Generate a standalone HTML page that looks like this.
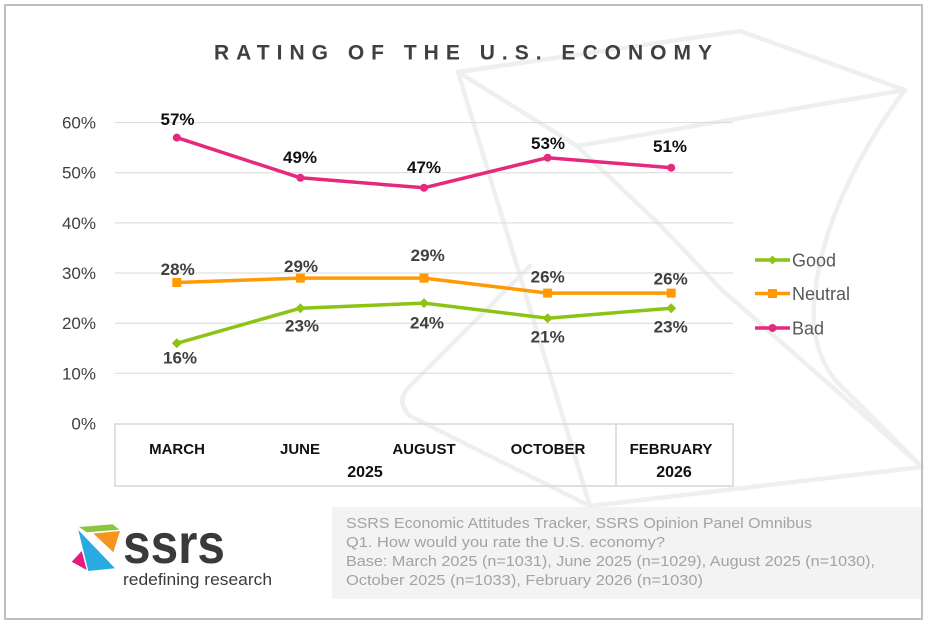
<!DOCTYPE html>
<html><head><meta charset="utf-8"><style>
html,body{margin:0;padding:0;background:#fff;}
svg{display:block;}
text{font-family:"Liberation Sans",sans-serif;}
</style></head><body>
<svg width="927" height="625" viewBox="0 0 927 625" xmlns="http://www.w3.org/2000/svg">
<rect x="0" y="0" width="927" height="625" fill="#fff"/>
<!-- footnote box -->
<rect x="332" y="507" width="590" height="92" fill="#f3f3f3"/>
<!-- watermark -->
<g fill="none" stroke="#efefef" stroke-width="4.5" stroke-linejoin="round" stroke-linecap="round">
<polyline points="458,72 740,31 905,90"/>
<polyline points="458,72 577,146 905,90"/>
<polyline points="577,146 660,225 722,290 838,392 922,467"/>
<polyline points="458,72 590,506 922,467"/>
<path d="M905,90 C860,150 818,230 814,306 C812,345 825,370 840,385 L922,467"/>
<path d="M530,266 L408,388 Q396,402 410,416 L590,506"/>
</g>
<!-- outer border -->
<rect x="5" y="5" width="917" height="614" fill="none" stroke="#bfbfbf" stroke-width="2"/>
<!-- title -->
<text x="214" y="59.5" font-size="21" font-weight="bold" fill="#404040" textLength="498" lengthAdjust="spacing">RATING OF THE U.S. ECONOMY</text>
<!-- gridlines -->
<g stroke="#d9d9d9" stroke-width="1">
<line x1="115" y1="122.6" x2="733" y2="122.6"/>
<line x1="115" y1="172.7" x2="733" y2="172.7"/>
<line x1="115" y1="222.9" x2="733" y2="222.9"/>
<line x1="115" y1="273" x2="733" y2="273"/>
<line x1="115" y1="323.2" x2="733" y2="323.2"/>
<line x1="115" y1="373.3" x2="733" y2="373.3"/>
</g>
<!-- y labels -->
<g font-size="17" fill="#404040" text-anchor="end">
<text x="96" y="128.6">60%</text>
<text x="96" y="178.7">50%</text>
<text x="96" y="228.9">40%</text>
<text x="96" y="279">30%</text>
<text x="96" y="329.2">20%</text>
<text x="96" y="379.3">10%</text>
<text x="96" y="429.5">0%</text>
</g>
<!-- category box -->
<g fill="none" stroke="#d9d9d9" stroke-width="1.6">
<rect x="115" y="424" width="618" height="62"/>
<line x1="616" y1="424" x2="616" y2="486"/>
</g>
<g font-size="15" font-weight="bold" fill="#111" text-anchor="middle">
<text x="177" y="454">MARCH</text>
<text x="300" y="454">JUNE</text>
<text x="424" y="454">AUGUST</text>
<text x="548" y="454">OCTOBER</text>
<text x="671" y="454">FEBRUARY</text>
<text x="365" y="477" font-size="16">2025</text>
<text x="674" y="477" font-size="16">2026</text>
</g>
<!-- series: Bad -->
<polyline fill="none" stroke="#e6287e" stroke-width="3.5" stroke-linejoin="round" points="176.8,137.6 300.4,177.8 424,187.8 547.6,157.7 671.2,167.7"/>
<g fill="#e6287e">
<circle cx="176.8" cy="137.6" r="4"/><circle cx="300.4" cy="177.8" r="4"/><circle cx="424" cy="187.8" r="4"/><circle cx="547.6" cy="157.7" r="4"/><circle cx="671.2" cy="167.7" r="4"/>
</g>
<!-- series: Neutral -->
<polyline fill="none" stroke="#ff9a05" stroke-width="3.5" stroke-linejoin="round" points="176.8,282.5 300.4,278.1 424,278.1 547.6,293.1 671.2,293.1"/>
<g fill="#ff9a05">
<rect x="172.3" y="278" width="9" height="9"/><rect x="295.9" y="273.6" width="9" height="9"/><rect x="419.5" y="273.6" width="9" height="9"/><rect x="543.1" y="288.6" width="9" height="9"/><rect x="666.7" y="288.6" width="9" height="9"/>
</g>
<!-- series: Good -->
<polyline fill="none" stroke="#8cc314" stroke-width="3.5" stroke-linejoin="round" points="176.8,343.3 300.4,308.2 424,303.1 547.6,318.2 671.2,308.2"/>
<g fill="#8cc314">
<polygon points="176.8,338.3 181.8,343.3 176.8,348.3 171.8,343.3"/>
<polygon points="300.4,303.2 305.4,308.2 300.4,313.2 295.4,308.2"/>
<polygon points="424,298.1 429,303.1 424,308.1 419,303.1"/>
<polygon points="547.6,313.2 552.6,318.2 547.6,323.2 542.6,318.2"/>
<polygon points="671.2,303.2 676.2,308.2 671.2,313.2 666.2,308.2"/>
</g>
<!-- data labels -->
<g font-size="17" font-weight="bold" text-anchor="middle">
<g fill="#111">
<text x="177.5" y="125">57%</text>
<text x="300" y="163">49%</text>
<text x="424" y="173">47%</text>
<text x="548" y="149">53%</text>
<text x="670" y="152">51%</text>
</g>
<g fill="#404040">
<text x="177.7" y="275">28%</text>
<text x="301" y="272">29%</text>
<text x="427.7" y="261">29%</text>
<text x="547.7" y="282.7">26%</text>
<text x="670.7" y="284.5">26%</text>
<text x="180" y="363.7">16%</text>
<text x="302" y="331.7">23%</text>
<text x="427" y="328.7">24%</text>
<text x="547.7" y="342.7">21%</text>
<text x="670.7" y="332.7">23%</text>
</g>
</g>
<!-- legend -->
<g stroke-width="3.5">
<line x1="755" y1="260" x2="790" y2="260" stroke="#8cc314"/>
<line x1="755" y1="293.5" x2="790" y2="293.5" stroke="#ff9a05"/>
<line x1="755" y1="328" x2="790" y2="328" stroke="#e6287e"/>
</g>
<polygon points="772.5,255.5 777,260 772.5,264.5 768,260" fill="#8cc314"/>
<rect x="768" y="289" width="9" height="9" fill="#ff9a05"/>
<circle cx="772.5" cy="328" r="4" fill="#e6287e"/>
<g font-size="18" fill="#595959">
<text x="792" y="266.5">Good</text>
<text x="792" y="300">Neutral</text>
<text x="792" y="334.5">Bad</text>
</g>
<!-- footnote text -->
<g font-size="15" fill="#a3a3a3">
<text x="346" y="528" textLength="466" lengthAdjust="spacingAndGlyphs">SSRS Economic Attitudes Tracker, SSRS Opinion Panel Omnibus</text>
<text x="346" y="547" textLength="319" lengthAdjust="spacingAndGlyphs">Q1. How would you rate the U.S. economy?</text>
<text x="346" y="566" textLength="529" lengthAdjust="spacingAndGlyphs">Base: March 2025 (n=1031), June 2025 (n=1029), August 2025 (n=1030),</text>
<text x="346" y="585" textLength="357" lengthAdjust="spacingAndGlyphs">October 2025 (n=1033), February 2026 (n=1030)</text>
</g>
<!-- logo -->
<polygon points="79,527 112.7,524.3 119.3,529.7 86.7,532.3" fill="#8cc63f"/>
<polygon points="78.3,530 115,568.3 88.3,571" fill="#29abe2"/>
<polygon points="93.3,533.5 120,531 113.3,552.3" fill="#f7941d"/>
<polygon points="81.7,551 71.7,561.7 86.7,570" fill="#e6197f"/>
<text x="123" y="563" font-size="56" font-weight="bold" fill="#3a3a3c" textLength="102" lengthAdjust="spacingAndGlyphs">ssrs</text>
<text x="123" y="585" font-size="17" fill="#3a3a3c" textLength="149" lengthAdjust="spacingAndGlyphs">redefining research</text>
</svg>
</body></html>
